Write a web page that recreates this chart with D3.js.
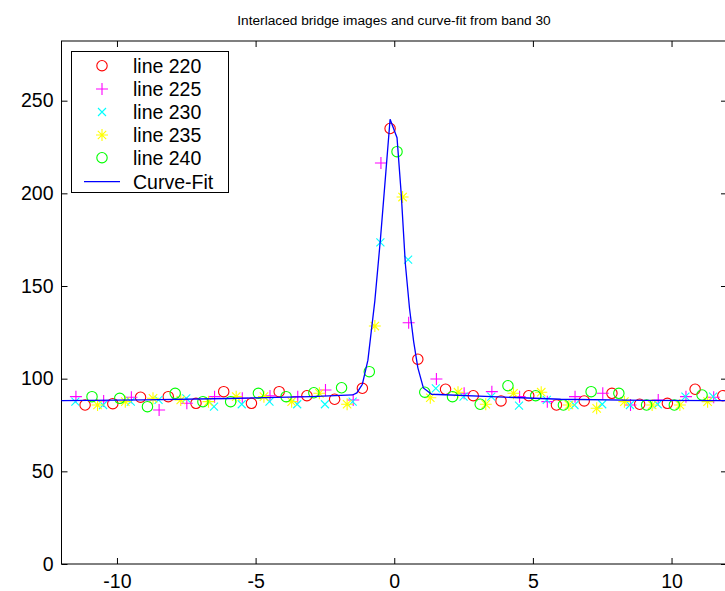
<!DOCTYPE html>
<html>
<head>
<meta charset="utf-8">
<script src="https://cdn.jsdelivr.net/npm/d3@7"></script>
<style>
	body { margin: 0; background: #fff; }
	text { font-family: "Liberation Sans", Arial, sans-serif; }
</style>
</head>
<body>
<div id="chart"></div>
<script>
	// samples of each image line (interlaced positions)
	var redX = [-11.15, -10.15, -9.15, -8.15, -7.15, -6.15, -5.15, -4.15, -3.15, -2.15, -1.15, -0.15, 0.85, 1.85, 2.85, 3.85, 4.85, 5.85, 6.85, 7.85, 8.85, 9.85, 10.85, 11.85];
	var redY = [85.8, 86.5, 90.0, 90.3, 86.7, 93.0, 86.7, 93.0, 90.8, 88.9, 94.8, 235, 110.5, 94.3, 90.8, 88.0, 90.8, 85.8, 88.0, 92.1, 86.2, 86.7, 94.3, 90.8];

	var magentaX = [-11.48, -10.48, -9.48, -8.48, -7.48, -6.48, -5.48, -4.48, -3.48, -2.48, -1.48, -0.48, 0.52, 1.52, 2.52, 3.52, 4.52, 5.52, 6.52, 7.52, 8.52, 9.52, 10.52, 11.52];
	var magentaY = [90.3, 88.0, 90.0, 83.1, 86.7, 90.3, 89.4, 90.7, 90.3, 93.9, 88.5, 216.4, 130.2, 99.8, 92.1, 93.0, 90.3, 87.6, 90.3, 92.1, 85.8, 88.5, 90.3, 90.0];

	var cyanX = [-11.5, -10.5, -9.5, -8.5, -7.5, -6.5, -5.5, -4.5, -3.5, -2.5, -1.5, -0.5, 0.5, 1.5, 2.5, 3.5, 4.5, 5.5, 6.5, 7.5, 8.5, 9.5, 10.5, 11.5];
	var cyanY = [87.6, 85.8, 87.6, 88.5, 89.4, 84.9, 86.2, 87.6, 86.2, 86.2, 87.6, 173.6, 164.2, 94.8, 90.3, 90.3, 85.4, 88.5, 85.8, 86.2, 85.8, 86.2, 90.3, 90.3];

	var yellowX = [-10.7, -9.7, -8.7, -7.7, -6.7, -5.7, -4.7, -3.7, -2.7, -1.7, -0.7, 0.3, 1.3, 2.3, 3.3, 4.3, 5.3, 6.3, 7.3, 8.3, 9.3, 10.3, 11.3];
	var yellowY = [85.8, 87.6, 89.4, 88.5, 87.6, 90.3, 90.3, 87.6, 92.1, 86.2, 128.4, 198, 89.7, 92.7, 86.2, 92.1, 92.7, 85.8, 84.0, 87.6, 85.8, 85.8, 87.6];

	var greenX = [-10.9, -9.9, -8.9, -7.9, -6.9, -5.9, -4.9, -3.9, -2.9, -1.9, -0.9, 0.1, 1.1, 2.1, 3.1, 4.1, 5.1, 6.1, 7.1, 8.1, 9.1, 10.1, 11.1];
	var greenY = [90.3, 89.4, 84.9, 92.1, 87.6, 87.6, 92.1, 90.3, 92.4, 95.1, 103.8, 222.5, 92.7, 90.3, 86.2, 96.2, 90.8, 85.8, 93.0, 92.1, 85.8, 85.8, 91.2];

	// fitted curve vertices
	var fitX = [-12, -9, -6, -3, -1.5, -1.35, -1.15, -0.95, -0.7, -0.5, -0.3, -0.15, 0.1, 0.25, 0.4, 0.55, 0.7, 0.85, 1.05, 1.35, 3.5, 6, 9, 12];
	var fitY = [88.1, 88.6, 89.3, 90.3, 91.2, 92.3, 97, 110, 142, 175, 212, 240, 230, 200, 162, 138, 120, 106, 95, 91.6, 90.3, 88.9, 88.3, 88.1];

	var xTicks = [-10, -5, 0, 5, 10];
	var yTicks = [0, 50, 100, 150, 200, 250];

	var seriesNames = ["line 220", "line 225", "line 230", "line 235", "line 240"];
	var seriesColors = ["#ff0000", "#ff00ff", "#00ffff", "#ffff00", "#00ff00"];
	var seriesMarkers = ["o", "+", "x", "*", "o"];

	var width = 725,
		height = 591;

	var x = d3.scaleLinear().domain([-12, 12]).range([61.5, 727]);
	var y = d3.scaleLinear().domain([0, 282.2]).range([564, 41]);

	var svg = d3.select("#chart").append("svg")
		.attr("width", width)
		.attr("height", height);

	// title
	svg.append("text")
		.attr("x", 394)
		.attr("y", 25)
		.attr("text-anchor", "middle")
		.style("font-size", "13.7px")
		.text("Interlaced bridge images and curve-fit from band 30");

	// axes (ticks inside, like matlab)
	function styleAxis(g) {
		g.select(".domain").remove();
		g.selectAll("line").attr("stroke", "#000");
		g.selectAll("text").style("font-size", "19.5px").attr("fill", "#000");
	}

	var plain = function(d) { return String(d); };

	svg.append("g")
		.attr("transform", "translate(0," + y(0) + ")")
		.call(d3.axisBottom(x).tickValues(xTicks).tickFormat(plain).tickSizeInner(-6).tickSizeOuter(0).tickPadding(10))
		.call(styleAxis);

	svg.append("g")
		.attr("transform", "translate(0," + y(282.2) + ")")
		.call(d3.axisTop(x).tickValues(xTicks).tickSizeInner(-6).tickSizeOuter(0).tickFormat(""))
		.call(styleAxis);

	svg.append("g")
		.attr("transform", "translate(" + x(-12) + ",0)")
		.call(d3.axisLeft(y).tickValues(yTicks).tickFormat(plain).tickSizeInner(-6).tickSizeOuter(0).tickPadding(8))
		.call(styleAxis);

	svg.append("g")
		.attr("transform", "translate(" + x(12) + ",0)")
		.call(d3.axisRight(y).tickValues(yTicks).tickSizeInner(-6).tickSizeOuter(0).tickFormat(""))
		.call(styleAxis);

	svg.append("rect")
		.attr("x", x(-12))
		.attr("y", y(282.2))
		.attr("width", x(12) - x(-12))
		.attr("height", y(0) - y(282.2))
		.attr("fill", "none")
		.attr("stroke", "#000");

	// marker shapes
	function markerPath(m) {
		if (m == "o") return d3.symbol(d3.symbolCircle, 85)();
		if (m == "+") return "M-6,0H6M0,-6V6";
		if (m == "x") return "M-4,-4L4,4M-4,4L4,-4";
		return "M-6,0H6M0,-6V6M-4.2,-4.2L4.2,4.2M-4.2,4.2L4.2,-4.2";
	}

	var series = [
		{ xs: redX, ys: redY },
		{ xs: magentaX, ys: magentaY },
		{ xs: cyanX, ys: cyanY },
		{ xs: yellowX, ys: yellowY },
		{ xs: greenX, ys: greenY }
	];

	series.forEach(function(s, i) {
		var pts = s.xs.map(function(v, j) { return [v, s.ys[j]]; });
		svg.append("g").selectAll("path")
			.data(pts)
			.enter().append("path")
			.attr("transform", function(d) { return "translate(" + x(d[0]) + "," + y(d[1]) + ")"; })
			.attr("d", markerPath(seriesMarkers[i]))
			.attr("fill", "none")
			.attr("stroke", seriesColors[i])
			.attr("stroke-width", 1.1);
	});

	var line = d3.line()
		.x(function(d) { return x(d[0]); })
		.y(function(d) { return y(d[1]); });

	svg.append("path")
		.datum(fitX.map(function(v, j) { return [v, fitY[j]]; }))
		.attr("d", line)
		.attr("fill", "none")
		.attr("stroke", "#0000ff")
		.attr("stroke-width", 1.3);

	// legend
	var lg = svg.append("g");
	lg.append("rect")
		.attr("x", 71.5).attr("y", 51.5)
		.attr("width", 157).attr("height", 141)
		.attr("fill", "#fff").attr("stroke", "#000");

	var rowY = [65.7, 89, 112, 135, 157.7, 181.7];
	seriesNames.forEach(function(name, i) {
		lg.append("path")
			.attr("transform", "translate(102," + rowY[i] + ")")
			.attr("d", markerPath(seriesMarkers[i]))
			.attr("fill", "none")
			.attr("stroke", seriesColors[i])
			.attr("stroke-width", 1.1);
		lg.append("text")
			.attr("x", 133).attr("y", rowY[i] + 7)
			.style("font-size", "19.5px")
			.text(name);
	});
	lg.append("line")
		.attr("x1", 84).attr("x2", 120)
		.attr("y1", rowY[5]).attr("y2", rowY[5])
		.attr("stroke", "#0000ff").attr("stroke-width", 1.3);
	lg.append("text")
		.attr("x", 133).attr("y", rowY[5] + 7)
		.style("font-size", "19.5px")
		.text("Curve-Fit");
</script>
</body>
</html>
